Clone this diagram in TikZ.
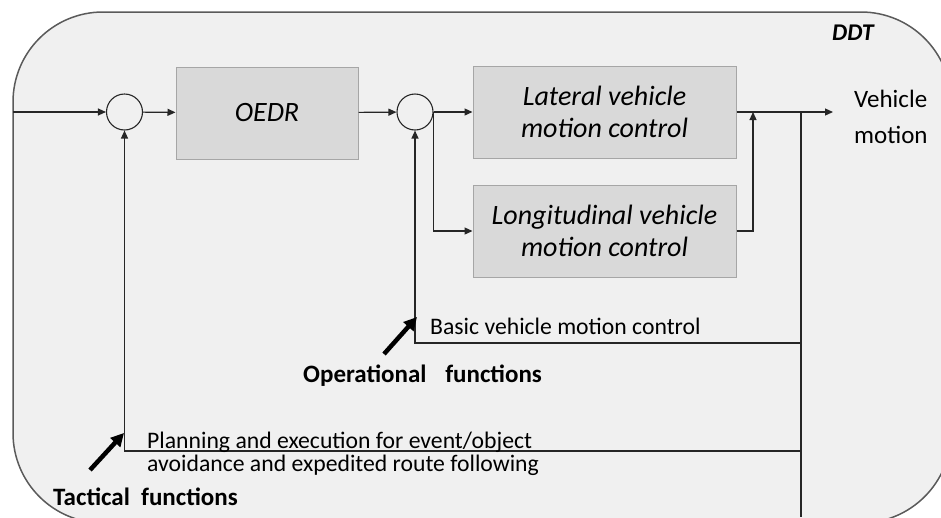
\documentclass[tikz,border=0pt]{standalone}
\usepackage{fontspec}
\setmainfont{Carlito}
\usetikzlibrary{arrows.meta}
\definecolor{panel}{HTML}{F0F0F0}
\definecolor{frameline}{HTML}{5A5A5A}
\definecolor{blockfill}{HTML}{D9D9D9}
\definecolor{blockline}{HTML}{A6A6A6}
\definecolor{wire}{HTML}{262626}
\begin{document}
\begin{tikzpicture}[x=1pt,y=-1pt,
  wire/.style={draw=wire, line width=1.2pt},
  arr/.style={wire, -{Triangle[length=8pt,width=7pt]}},
  sumnode/.style={circle, draw=wire, line width=1.1pt, fill=panel,
    minimum size=36pt, inner sep=0pt},
  block/.style={draw=blockline, fill=blockfill, line width=1pt,
    minimum width=263pt, minimum height=92pt, align=center, inner sep=0pt,
    font=\fontsize{28}{32}\selectfont\itshape},
  note/.style={anchor=base west, inner sep=0pt, text=black,
    font=\fontsize{23.7}{27}\selectfont},
  heading/.style={note, font=\fontsize{25}{29}\selectfont\bfseries},
  pointer/.style={draw=black, line width=4.5pt,
    -{Triangle[length=13pt,width=13pt]}},
]
\useasboundingbox (0,0) rectangle (941,517);

% DDT frame
\begin{scope}
  \clip (0,0) rectangle (941,517);
  \draw[draw=frameline, fill=panel, line width=1.5pt, rounded corners=90pt]
    (13,12) rectangle (951,523);
\end{scope}

% blocks and summing points
\node[sumnode] (s1) at (124.5,112) {};
\node[block, minimum width=182pt] (oedr) at (267,113) {OEDR};
\node[sumnode] (s2) at (415,112) {};
\node[block] (lat) at (604.5,112) {Lateral vehicle\\motion control};
\node[block] (lon) at (604.5,231) {Longitudinal vehicle\\motion control};

% junctions and free ends
\coordinate (src) at (13,112);
\coordinate (merge) at (753,112);
\coordinate (tap) at (801,112);
\coordinate (out) at (833,112);
\coordinate (opfb) at (801,343);
\coordinate (tacfb) at (801,451);
\coordinate (bottom) at (801,517);

% forward path
\draw[arr] (src) -- (s1);
\draw[arr] (s1) -- (oedr);
\draw[arr] (oedr) -- (s2);
\draw[arr] (s2) -- (lat);
\draw[arr] (s2.east) |- (lon);
\draw[arr] (lat) -- (out);
\draw[arr] (lon) -| (merge);

% feedback loops
\draw[wire] (tap) -- (bottom);
\draw[arr] (opfb) -| (s2);
\draw[arr] (tacfb) -| (s1);

% labels
\node[anchor=base west, inner sep=0pt, font=\fontsize{24}{28}\selectfont\bfseries\itshape]
  (ddt) at (832,40) {DDT};
\node[anchor=west, align=left, inner sep=0pt, font=\fontsize{25}{36}\selectfont]
  (vm) at (854,116.5) {Vehicle\\motion};
\node[note] (basic) at (430,334) {Basic vehicle motion control};
\node[heading] (oper) at (303,382) {Operational\hspace{0.75em}functions};
\node[note] (plan) at (147,448) {Planning and execution for event/object};
\node[note] (avoid) at (147,471) {avoidance and expedited route following};
\node[heading] (tact) at (53,505) {Tactical\hspace{0.45em}functions};

% pointer arrows
\coordinate (opTail) at (384,354);
\coordinate (opHead) at (417,317);
\draw[pointer] (opTail) -- (opHead);
\coordinate (tacTail) at (90,470);
\coordinate (tacHead) at (124,433);
\draw[pointer] (tacTail) -- (tacHead);
\end{tikzpicture}
\end{document}
